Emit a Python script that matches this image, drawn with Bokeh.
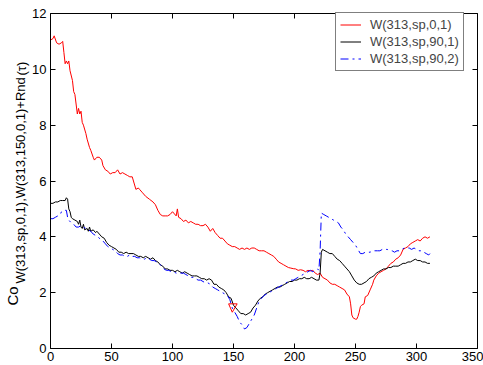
import math
from bokeh.plotting import figure
from bokeh.models import FixedTicker, LinearAxis, Label, Range1d
from bokeh.embed import file_html
from bokeh.resources import INLINE

# ---- data ----
x_ticks = [0, 50, 100, 150, 200, 250, 300, 350]
y_ticks = [0, 2, 4, 6, 8, 10, 12]

legend_labels = ["W(313,sp,0,1)", "W(313,sp,90,1)", "W(313,sp,90,2)"]

x_red = [0, 2, 3, 5, 7, 9, 10, 11, 12, 13, 14, 15, 16, 18, 19, 20, 22, 23, 24, 25, 26, 27, 29, 30, 32, 33,
         35, 36, 38, 40, 42, 43, 45, 47, 49, 51, 53, 55, 57, 59, 61, 63, 65, 67, 68, 70, 72, 73, 75, 78, 81,
         84, 86, 88, 90, 92, 94, 96, 98, 100, 101, 103, 104, 105, 107, 109, 111, 113, 115, 117, 119, 121,
         123, 125, 127, 129, 131, 133, 135, 137, 139, 141, 143, 145, 147, 149, 151, 153, 155, 157, 159, 161,
         163, 165, 167, 169, 171, 173, 175, 177, 179, 181, 183, 185, 187, 189, 191, 193, 195, 197, 199, 201,
         203, 205, 207, 209, 211, 213, 215, 217, 219, 221, 223, 225, 227, 229, 231, 233, 235, 237, 239, 241,
         243, 245, 246, 247, 248, 250, 251, 252, 253, 254, 255, 257, 258, 260, 262, 264, 265, 267, 269, 271,
         273, 275, 277, 279, 281, 283, 285, 287, 289, 291, 293, 295, 297, 299, 301, 303, 305, 307, 309, 311]
y_red = [11.05, 11.1, 11.2, 10.95, 10.9, 10.95, 11.0, 10.6, 10.2, 10.3, 10.2, 10.3, 9.95, 9.6, 9.2, 9.1, 8.4,
         8.6, 8.4, 8.5, 8.1, 8.0, 7.7, 7.5, 7.2, 7.1, 6.85, 6.75, 6.85, 6.85, 6.75, 6.55, 6.4, 6.35, 6.25,
         6.3, 6.3, 6.4, 6.25, 6.3, 6.25, 6.2, 6.15, 6.15, 6.0, 5.7, 5.75, 5.7, 5.6, 5.45, 5.35, 5.25, 5.15,
         4.95, 4.8, 4.75, 4.75, 4.75, 4.8, 4.9, 4.85, 4.75, 5.0, 4.7, 4.65, 4.55, 4.6, 4.5, 4.55, 4.5, 4.45,
         4.45, 4.4, 4.4, 4.45, 4.35, 4.2, 4.3, 4.15, 4.05, 3.95, 3.95, 3.85, 3.75, 3.7, 3.65, 3.65, 3.6, 3.55,
         3.6, 3.55, 3.6, 3.55, 3.6, 3.6, 3.55, 3.5, 3.5, 3.5, 3.45, 3.4, 3.35, 3.3, 3.2, 3.1, 3.05, 3.0, 2.95,
         2.9, 2.88, 2.86, 2.85, 2.8, 2.82, 2.8, 2.75, 2.8, 2.78, 2.8, 2.7, 2.65, 2.7, 2.55, 2.5, 2.45, 2.35,
         2.3, 2.3, 2.25, 2.2, 2.15, 2.1, 1.95, 1.85, 1.6, 1.2, 1.1, 1.05, 1.05, 1.15, 1.3, 1.5, 1.55, 1.6,
         1.85, 1.9, 2.1, 2.3, 2.45, 2.6, 2.7, 2.75, 2.8, 2.85, 2.95, 3.05, 3.1, 3.2, 3.25, 3.35, 3.55, 3.6,
         3.65, 3.75, 3.8, 3.85, 3.9, 3.85, 3.95, 4.0, 3.95, 4.0]

# small stray red piece near the dip of the other curves
x_red_piece = [146, 153, 149, 146]
y_red_piece = [1.6, 1.6, 1.3, 1.6]

x_black = [0, 2, 4, 6, 8, 10, 12, 13, 14, 15, 16, 17, 18, 20, 22, 23, 24, 25, 26, 27, 28, 30, 31, 32, 33,
           35, 37, 38, 40, 42, 44, 46, 48, 50, 52, 54, 56, 58, 60, 62, 64, 66, 68, 70, 72, 74, 76, 78, 80,
           82, 84, 86, 88, 90, 92, 94, 96, 98, 100, 102, 104, 106, 108, 110, 112, 114, 116, 118, 120, 122,
           124, 126, 128, 130, 132, 134, 136, 138, 140, 142, 144, 146, 148, 150, 152, 154, 156, 158, 160,
           162, 164, 166, 168, 170, 172, 174, 176, 178, 180, 182, 184, 186, 188, 190, 192, 194, 196, 198,
           200, 202, 204, 206, 208, 210, 212, 214, 216, 218, 220, 221, 222, 223, 225, 227, 229, 231, 233,
           235, 237, 239, 241, 243, 245, 247, 249, 251, 253, 255, 257, 259, 261, 263, 265, 267, 269, 271,
           273, 275, 277, 279, 281, 283, 285, 287, 289, 291, 293, 295, 297, 299, 301, 303, 305, 307, 309, 311]
y_black = [5.2, 5.2, 5.25, 5.25, 5.3, 5.3, 5.3, 5.4, 5.35, 5.0, 4.9, 4.7, 4.65, 4.6, 4.55, 4.45, 4.6, 4.35,
           4.3, 4.45, 4.25, 4.3, 4.2, 4.35, 4.2, 4.25, 4.15, 4.2, 4.1, 4.0, 3.95, 3.8, 3.7, 3.65, 3.6, 3.55,
           3.45, 3.45, 3.4, 3.45, 3.4, 3.4, 3.4, 3.35, 3.3, 3.3, 3.25, 3.3, 3.25, 3.2, 3.25, 3.15, 3.1, 3.0,
           2.95, 2.85, 2.85, 2.8, 2.8, 2.75, 2.8, 2.75, 2.7, 2.75, 2.7, 2.65, 2.6, 2.6, 2.6, 2.55, 2.5, 2.5,
           2.45, 2.5, 2.45, 2.3, 2.3, 2.2, 2.15, 2.1, 2.0, 1.85, 1.8, 1.55, 1.45, 1.35, 1.25, 1.25, 1.2, 1.25,
           1.3, 1.45, 1.55, 1.7, 1.8, 1.85, 1.95, 2.0, 2.05, 2.1, 2.15, 2.2, 2.2, 2.25, 2.3, 2.35, 2.4, 2.4,
           2.45, 2.45, 2.5, 2.5, 2.55, 2.5, 2.5, 2.55, 2.5, 2.45, 2.45, 2.7, 3.45, 3.55, 3.5, 3.45, 3.4, 3.4,
           3.3, 3.2, 3.15, 3.05, 2.95, 2.85, 2.75, 2.6, 2.45, 2.35, 2.3, 2.3, 2.35, 2.4, 2.5, 2.55, 2.6, 2.7,
           2.75, 2.8, 2.85, 2.85, 2.9, 2.9, 2.95, 2.95, 2.95, 3.0, 3.05, 3.05, 3.1, 3.1, 3.15, 3.2, 3.15,
           3.15, 3.1, 3.1, 3.05, 3.05]

x_blue = [0, 2, 4, 6, 8, 9, 10, 12, 13, 14, 15, 17, 19, 21, 23, 25, 27, 29, 31, 33, 35, 37, 39, 41, 43, 45,
          47, 49, 51, 53, 55, 57, 59, 61, 63, 65, 67, 69, 71, 73, 75, 77, 79, 81, 83, 85, 87, 89, 91, 93, 95,
          97, 99, 101, 103, 105, 107, 109, 111, 113, 115, 117, 119, 121, 123, 125, 127, 129, 131, 133, 135,
          137, 139, 141, 143, 145, 147, 149, 151, 153, 155, 157, 159, 161, 163, 165, 167, 169, 171, 173, 175,
          177, 179, 181, 183, 185, 187, 189, 191, 193, 195, 197, 199, 201, 203, 205, 207, 209, 211, 213, 215,
          217, 219, 220, 221, 222, 224, 226, 228, 230, 232, 234, 236, 238, 240, 242, 244, 246, 248, 250, 252,
          254, 256, 258, 260, 262, 264, 266, 268, 270, 272, 274, 276, 278, 280, 282, 284, 286, 288, 290, 292,
          294, 296, 298, 300, 302, 304, 306, 308, 310, 311]
y_blue = [4.65, 4.65, 4.7, 4.75, 4.8, 4.9, 4.9, 4.95, 4.95, 4.7, 4.6, 4.5, 4.45, 4.35, 4.35, 4.4, 4.35, 4.3,
          4.25, 4.2, 4.1, 4.05, 4.0, 3.9, 3.85, 3.75, 3.65, 3.6, 3.55, 3.5, 3.4, 3.35, 3.35, 3.3, 3.3, 3.35,
          3.3, 3.3, 3.25, 3.25, 3.2, 3.2, 3.25, 3.2, 3.15, 3.15, 3.1, 3.05, 2.95, 2.85, 2.8, 2.8, 2.75, 2.75,
          2.7, 2.7, 2.7, 2.7, 2.65, 2.6, 2.55, 2.55, 2.5, 2.45, 2.45, 2.4, 2.35, 2.35, 2.3, 2.2, 2.15, 2.1,
          2.05, 2.0, 1.95, 1.9, 1.75, 1.45, 1.3, 1.15, 0.95, 0.85, 0.7, 0.75, 0.9, 1.05, 1.2, 1.45, 1.7, 1.8,
          1.9, 1.95, 2.0, 2.05, 2.1, 2.15, 2.2, 2.25, 2.3, 2.35, 2.4, 2.45, 2.45, 2.5, 2.55, 2.6, 2.65, 2.7,
          2.75, 2.8, 2.75, 2.8, 2.85, 2.8, 3.5, 4.85, 4.8, 4.75, 4.7, 4.65, 4.6, 4.55, 4.5, 4.35, 4.25, 4.1,
          4.0, 3.9, 3.8, 3.7, 3.55, 3.4, 3.4, 3.45, 3.45, 3.45, 3.5, 3.5, 3.5, 3.5, 3.55, 3.55, 3.55, 3.5,
          3.5, 3.45, 3.5, 3.5, 3.55, 3.6, 3.6, 3.6, 3.55, 3.6, 3.55, 3.5, 3.5, 3.45, 3.4, 3.35, 3.4]

ylabel_main = "Co"
ylabel_sub = "W(313,sp,0,1),W(313,150,0,1)+Rnd"
ylabel_tail = "(\u03c4)"

FONT = "Liberation Sans"

# Layout: the plotting frame fills the whole canvas; the visible axes box
# (0..350 x 0..12) sits at pixels x 50..477, y 13..348, drawn with fixed-location axes.
W, H = 483, 365
BOX_L, BOX_R, BOX_T, BOX_B = 50, 477, 13, 348
X0, X1 = x_ticks[0], x_ticks[-1]
Y0, Y1 = y_ticks[0], y_ticks[-1]
kx = (BOX_R - BOX_L) / (X1 - X0)
ky = (BOX_B - BOX_T) / (Y1 - Y0)
x_range = Range1d(X0 - BOX_L / kx, X1 + (W - BOX_R) / kx)
y_range = Range1d(Y0 - (H - BOX_B) / ky, Y1 + BOX_T / ky)

p = figure(frame_width=W, frame_height=H, x_range=x_range, y_range=y_range,
           x_axis_location=None, y_axis_location=None,
           output_backend="svg", toolbar_location=None,
           min_border=0, min_border_left=0, min_border_right=0, min_border_top=0, min_border_bottom=0,
           background_fill_color="white", border_fill_color="white")
p.outline_line_color = None
p.xgrid.visible = False
p.ygrid.visible = False

bottom_axis = LinearAxis(fixed_location=Y0, bounds=(X0, X1), ticker=FixedTicker(ticks=x_ticks))
top_axis = LinearAxis(fixed_location=Y1, bounds=(X0, X1), ticker=FixedTicker(ticks=x_ticks))
left_axis = LinearAxis(fixed_location=X0, bounds=(Y0, Y1), ticker=FixedTicker(ticks=y_ticks))
right_axis = LinearAxis(fixed_location=X1, bounds=(Y0, Y1), ticker=FixedTicker(ticks=y_ticks))
p.add_layout(bottom_axis, "below")
p.add_layout(top_axis, "above")
p.add_layout(left_axis, "left")
p.add_layout(right_axis, "right")

for ax in (bottom_axis, top_axis, left_axis, right_axis):
    ax.major_tick_in = 5
    ax.major_tick_out = 0
    ax.minor_tick_line_color = None
    ax.axis_line_color = "black"
    ax.major_tick_line_color = "black"
    ax.major_label_text_font = FONT
    ax.major_label_text_font_size = "13px"
    ax.major_label_text_color = "black"

bottom_axis.major_label_standoff = 3
left_axis.major_label_standoff = 4
for ax in (top_axis, right_axis):
    ax.major_label_text_color = None
    ax.major_label_standoff = 0

p.line(x_red, y_red, line_color="red", line_width=1, legend_label=legend_labels[0])
p.line(x_black, y_black, line_color="black", line_width=1, legend_label=legend_labels[1])
p.line(x_blue, y_blue, line_color="blue", line_width=1, line_dash="8 4 2 4", legend_label=legend_labels[2])
p.line(x_red_piece, y_red_piece, line_color="red", line_width=1)

lg = p.legend[0]
lg.location = (335, H - 71)   # bottom-left corner of the legend box, from the canvas bottom-left
lg.margin = 0
lg.padding = 4
lg.spacing = 2
lg.label_height = 15
lg.glyph_height = 15
lg.glyph_width = 21
lg.label_standoff = 9
lg.label_text_font = FONT
lg.label_text_font_size = "13px"
lg.border_line_color = "black"
lg.border_line_width = 1
lg.background_fill_color = "white"
lg.background_fill_alpha = 1

# y-axis label: rotated text pieces (main + subscript + tail), placed left of the axis box
def px_x(px):
    return X0 + (px - BOX_L) / kx

def px_y(py):
    return Y0 + (BOX_B - py) / ky

p.add_layout(Label(x=px_x(12), y=px_y(305), text=ylabel_main, angle=math.pi / 2,
                   text_font=FONT, text_font_size="15px", text_align="left",
                   text_baseline="middle", text_color="black"))
p.add_layout(Label(x=px_x(20), y=px_y(283), text=ylabel_sub, angle=math.pi / 2,
                   text_font=FONT, text_font_size="13px", text_align="left",
                   text_baseline="middle", text_color="black"))
p.add_layout(Label(x=px_x(21), y=px_y(75), text=ylabel_tail, angle=math.pi / 2,
                   text_font=FONT, text_font_size="13px", text_align="left",
                   text_baseline="middle", text_color="black"))

open("out.html", "w").write(file_html(p, INLINE))
